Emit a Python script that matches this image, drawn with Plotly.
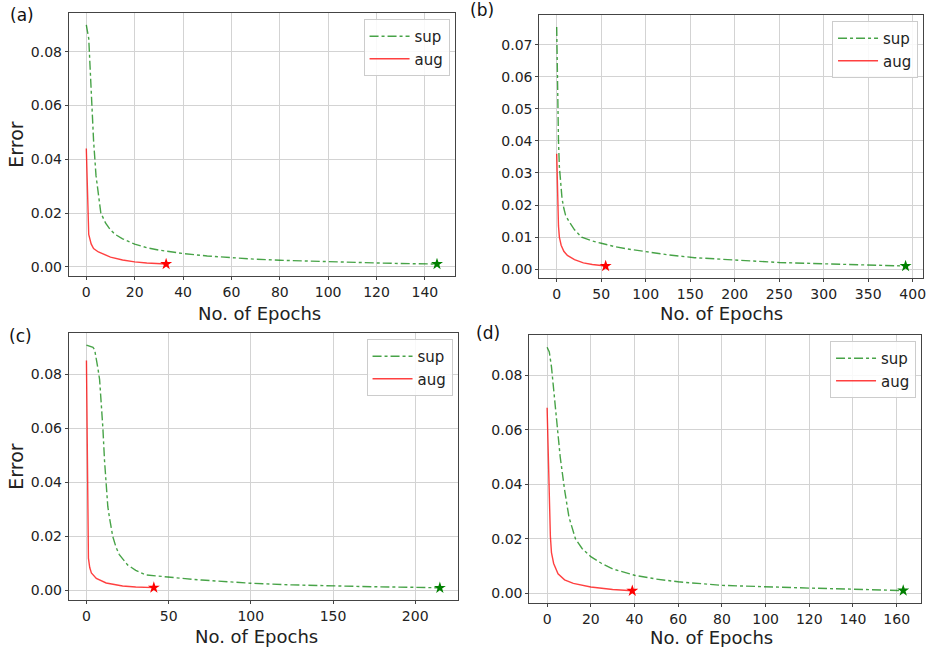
import plotly.graph_objects as go

# ---------------- data ----------------
a_sup_x = [0, 1, 2, 3, 4, 5, 6, 8, 10, 12, 15, 20, 25, 30, 35, 40, 50, 60, 70, 80, 90, 100, 110, 120, 130, 140, 145]
a_sup_y = [0.090, 0.085, 0.066, 0.047, 0.034, 0.026, 0.020, 0.0162, 0.0137, 0.0120, 0.0104, 0.0084, 0.0071, 0.0062, 0.0055, 0.0049, 0.0040, 0.0033, 0.0028, 0.0024, 0.0021, 0.0018, 0.0016, 0.0014, 0.0012, 0.0011, 0.0010]
a_aug_x = [0, 0.5, 1, 2, 3, 5, 8, 10, 15, 20, 25, 30, 33]
a_aug_y = [0.044, 0.025, 0.012, 0.0085, 0.0068, 0.0055, 0.0043, 0.0036, 0.0025, 0.0018, 0.0014, 0.0012, 0.0010]

b_sup_x = [0, 1, 2, 3, 4.5, 6, 8, 10, 14, 20, 28, 40, 50, 66, 80, 100, 125, 155, 200, 250, 300, 350, 392]
b_sup_y = [0.0755, 0.055, 0.040, 0.032, 0.0267, 0.022, 0.019, 0.0168, 0.0148, 0.0123, 0.0100, 0.0088, 0.0081, 0.0070, 0.0063, 0.0055, 0.0045, 0.0036, 0.0028, 0.0021, 0.0017, 0.0013, 0.0010]
b_aug_x = [0, 1, 2, 3, 5, 8, 12, 20, 30, 40, 50, 55]
b_aug_y = [0.036, 0.022, 0.0135, 0.0100, 0.0075, 0.0056, 0.0043, 0.0030, 0.0020, 0.0015, 0.0012, 0.0010]

c_sup_x = [0, 2, 4, 5, 6, 7, 8, 9, 10, 11, 12, 13, 14, 16, 18, 20, 25, 30, 36, 45, 50, 60, 70, 90, 100, 125, 150, 175, 200, 215]
c_sup_y = [0.0907, 0.0903, 0.0899, 0.0890, 0.0860, 0.0820, 0.0780, 0.0700, 0.0600, 0.0480, 0.0370, 0.0310, 0.0270, 0.0200, 0.0160, 0.0133, 0.0095, 0.0075, 0.0058, 0.0052, 0.0049, 0.0044, 0.0039, 0.0030, 0.0027, 0.0021, 0.0017, 0.0014, 0.0012, 0.0010]
c_aug_x = [0, 0.4, 0.8, 1.2, 2, 3, 6, 12, 22, 30, 41]
c_aug_y = [0.085, 0.050, 0.020, 0.012, 0.0085, 0.0065, 0.0045, 0.0028, 0.0017, 0.0013, 0.0011]

d_sup_x = [0, 1, 2, 3, 4, 5, 6, 8, 10, 13, 16, 20, 25, 30, 40, 50, 60, 80, 100, 120, 140, 163]
d_sup_y = [0.0902, 0.0885, 0.083, 0.075, 0.068, 0.060, 0.050, 0.038, 0.028, 0.020, 0.0165, 0.0135, 0.011, 0.0090, 0.0067, 0.0053, 0.0043, 0.0030, 0.0024, 0.0020, 0.0016, 0.0011]
d_aug_x = [0, 0.5, 1, 1.5, 2, 3, 5, 8, 12, 20, 30, 39]
d_aug_y = [0.068, 0.050, 0.032, 0.021, 0.015, 0.011, 0.0072, 0.0050, 0.0037, 0.0024, 0.0015, 0.0010]

panel_labels = ["(a)", "(b)", "(c)", "(d)"]
series_names = ["sup", "aug"]
x_title = "No. of Epochs"
y_title = "Error"

panels = [
    (a_sup_x, a_sup_y, a_aug_x, a_aug_y),
    (b_sup_x, b_sup_y, b_aug_x, b_aug_y),
    (c_sup_x, c_sup_y, c_aug_x, c_aug_y),
    (d_sup_x, d_sup_y, d_aug_x, d_aug_y),
]

# ---------------- layout geometry ----------------
W, H = 933, 647
boxes = [  # left, right, top, bottom in px
    (69, 456, 13, 276),
    (541, 926, 15, 278),
    (69, 459, 333, 600),
    (531, 924, 335, 603),
]
x_dtick = [20, 50, 50, 20]
y_dtick = [0.02, 0.01, 0.02, 0.02]
label_pos = [(22, 15), (484, 10), (21, 336), (490, 333)]
xtitle_pos = [(260, 313), (724, 314), (257, 636), (714, 637)]
show_ytitle = [True, False, True, False]

SUP_LINE = "rgba(0,128,0,0.72)"
AUG_LINE = "rgba(255,0,0,0.75)"
SUP_STAR = "#008000"
AUG_STAR = "#ff0000"
FONT = "DejaVu Sans"

fig = go.Figure()
layout = dict(
    width=W, height=H,
    margin=dict(l=0, r=0, t=0, b=0),
    paper_bgcolor="white", plot_bgcolor="white",
    font=dict(family=FONT, color="#222222", size=14),
    showlegend=True,
)
annotations = []

for i, (sx, sy, ax_, ay) in enumerate(panels):
    n = "" if i == 0 else str(i + 1)
    xa, ya = "x" + n, "y" + n
    leg = "legend" + n
    fig.add_trace(go.Scatter(x=sx, y=sy, mode="lines", name=series_names[0],
                             line=dict(color=SUP_LINE, width=1.4, dash="dashdot"),
                             xaxis=xa, yaxis=ya, legend=leg))
    fig.add_trace(go.Scatter(x=ax_, y=ay, mode="lines", name=series_names[1],
                             line=dict(color=AUG_LINE, width=1.4),
                             xaxis=xa, yaxis=ya, legend=leg))
    fig.add_trace(go.Scatter(x=[sx[-1]], y=[sy[-1]], mode="markers",
                             marker=dict(symbol="star", size=9, color=SUP_STAR),
                             xaxis=xa, yaxis=ya, showlegend=False))
    fig.add_trace(go.Scatter(x=[ax_[-1]], y=[ay[-1]], mode="markers",
                             marker=dict(symbol="star", size=9, color=AUG_STAR),
                             xaxis=xa, yaxis=ya, showlegend=False))

    l, r, t, b = boxes[i]
    xmax = max(max(sx), max(ax_))
    ymin = min(min(sy), min(ay))
    ymax = max(max(sy), max(ay))
    xpad = 0.05 * xmax
    ypad = 0.05 * (ymax - ymin)
    axis_common = dict(showgrid=True, gridcolor="#d3d3d3", gridwidth=1,
                       zeroline=False, showline=True, linecolor="#444444",
                       linewidth=1, mirror=True, ticks="outside", ticklen=3,
                       tickcolor="#444444", tickfont=dict(size=14, family=FONT))
    layout["xaxis" + n] = dict(
        domain=[l / W, r / W], anchor=ya,
        range=[-xpad, xmax + xpad], dtick=x_dtick[i], tick0=0,
        **axis_common)
    layout["yaxis" + n] = dict(
        domain=[1 - b / H, 1 - t / H], anchor=xa,
        range=[ymin - ypad, ymax + ypad], dtick=y_dtick[i], tick0=0,
        tickformat=".2f",
        title=dict(text=y_title if show_ytitle[i] else "",
                   font=dict(size=19, family=FONT), standoff=2),
        **axis_common)
    layout[leg] = dict(
        x=(r - 5) / W, y=1 - (t + 6) / H, xanchor="right", yanchor="top",
        bgcolor="rgba(255,255,255,0.85)", bordercolor="#cccccc", borderwidth=1,
        font=dict(size=15, family=FONT), itemwidth=40, tracegroupgap=2,
    )
    lx, ly = label_pos[i]
    annotations.append(dict(text=panel_labels[i], x=lx / W, y=1 - ly / H,
                            xref="paper", yref="paper", showarrow=False,
                            xanchor="center", yanchor="middle",
                            font=dict(size=17, family=FONT, color="#111111")))
    tx, ty = xtitle_pos[i]
    annotations.append(dict(text=x_title, x=tx / W, y=1 - ty / H,
                            xref="paper", yref="paper", showarrow=False,
                            xanchor="center", yanchor="middle",
                            font=dict(size=18, family=FONT, color="#222222")))

layout["annotations"] = annotations
fig.update_layout(**layout)
fig.write_html("out.html")
